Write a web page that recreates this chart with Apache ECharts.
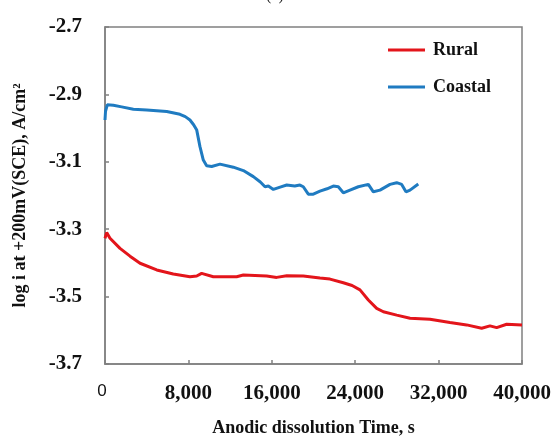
<!DOCTYPE html>
<html>
<head>
<meta charset="utf-8">
<script src="https://cdn.jsdelivr.net/npm/echarts@6/dist/echarts.min.js"></script>
<style>html,body{margin:0;padding:0;background:#fff;}#c{width:554px;height:437px;}</style>
</head>
<body>
<div id="c"></div>
<script>
const seriesNames = ['Rural', 'Coastal'];
const xTicks = [0, 8000, 16000, 24000, 32000, 40000];
const yTicks = [-3.7, -3.5, -3.3, -3.1, -2.9, -2.7];

const ruralTime = [0, 160, 480, 1440, 2400, 3360, 4960, 6550, 8150, 8800, 9270, 10390, 12630, 13270, 15510, 16470, 17430, 19020, 20620, 21580, 22860, 23700, 24460, 25260, 26060, 26700, 27980, 29260, 31170, 33090, 34690, 36130, 36930, 37570, 38530, 40000];
const ruralLog = [-3.327, -3.310, -3.327, -3.357, -3.380, -3.401, -3.421, -3.433, -3.441, -3.439, -3.431, -3.441, -3.441, -3.436, -3.439, -3.443, -3.438, -3.439, -3.445, -3.448, -3.459, -3.467, -3.480, -3.510, -3.535, -3.545, -3.555, -3.564, -3.567, -3.577, -3.584, -3.594, -3.587, -3.592, -3.582, -3.584];

const coastalTime = [0, 50, 220, 800, 1600, 2720, 4000, 5920, 7190, 7700, 8150, 8500, 8800, 9110, 9430, 9750, 10230, 11030, 12310, 13270, 14230, 14900, 15350, 15670, 16150, 16800, 17430, 18200, 18700, 19020, 19500, 19980, 20620, 21300, 21900, 22380, 22860, 23500, 24300, 25260, 25740, 26380, 27340, 27980, 28460, 28870, 29260, 30050];
const coastalLog = [-2.976, -2.950, -2.931, -2.932, -2.937, -2.944, -2.946, -2.951, -2.959, -2.966, -2.976, -2.990, -3.006, -3.055, -3.095, -3.112, -3.114, -3.107, -3.116, -3.126, -3.144, -3.160, -3.174, -3.172, -3.182, -3.175, -3.169, -3.172, -3.169, -3.174, -3.196, -3.196, -3.187, -3.180, -3.172, -3.174, -3.192, -3.184, -3.174, -3.167, -3.189, -3.184, -3.167, -3.162, -3.167, -3.189, -3.184, -3.166];

const zip = (a, b) => a.map((t, i) => [t, b[i]]);
const serif = '"Liberation Serif", "Times New Roman", serif';

const chart = echarts.init(document.getElementById('c'), null, {renderer: 'canvas'});
chart.setOption({
  animation: false,
  backgroundColor: '#fff',
  graphic: [{
    type: 'text', left: 266, top: -12,
    style: {text: '(a)', font: '16px ' + serif, fill: '#222'}
  }],
  grid: {left: 105, right: 32, top: 27, bottom: 73, show: true, borderColor: '#808080', borderWidth: 1.5,
         containLabel: false, outerBoundsMode: 'none'},
  legend: {
    orient: 'vertical', left: 383, top: 36, itemWidth: 37, itemHeight: 3, itemGap: 19,
    icon: 'rect',
    data: seriesNames,
    textStyle: {fontFamily: serif, fontWeight: 'bold', fontSize: 18, color: '#111', padding: [0, 0, 0, 3]}
  },
  xAxis: {
    type: 'value', min: xTicks[0], max: xTicks[xTicks.length - 1], interval: xTicks[1] - xTicks[0],
    name: 'Anodic dissolution Time, s', nameLocation: 'middle', nameGap: 55,
    nameTextStyle: {fontFamily: serif, fontWeight: 'bold', fontSize: 18, color: '#111'},
    axisLine: {lineStyle: {color: '#808080', width: 1.5}},
    axisTick: {inside: true, length: 4, lineStyle: {color: '#808080', width: 1.5}},
    splitLine: {show: false},
    axisLabel: {
      margin: 19,
      formatter: v => v === 0 ? '{z|0}' : '{b|' + v.toLocaleString('en-US') + '}',
      rich: {
        z: {fontFamily: '"Liberation Sans", Arial, sans-serif', fontSize: 17, color: '#111', padding: [0, 6, 0, 0]},
        b: {fontFamily: serif, fontWeight: 'bold', fontSize: 21, color: '#111'}
      }
    }
  },
  yAxis: {
    type: 'value', min: yTicks[0], max: yTicks[yTicks.length - 1], interval: 0.2,
    name: 'log i at +200mV(SCE), A/cm²', nameLocation: 'middle', nameGap: 76,
    nameTextStyle: {fontFamily: serif, fontWeight: 'bold', fontSize: 18, color: '#111'},
    axisLine: {lineStyle: {color: '#808080', width: 1.5}},
    axisTick: {inside: true, length: 4, lineStyle: {color: '#808080', width: 1.5}},
    splitLine: {show: false},
    axisLabel: {
      margin: 23,
      formatter: v => v.toFixed(1),
      fontFamily: serif, fontWeight: 'bold', fontSize: 21, color: '#111',
      padding: [0, 0, 6, 0]
    }
  },
  series: [
    {name: seriesNames[0], type: 'line', symbol: 'none', data: zip(ruralTime, ruralLog),
     lineStyle: {color: '#e3151b', width: 3}, itemStyle: {color: '#e3151b'}},
    {name: seriesNames[1], type: 'line', symbol: 'none', data: zip(coastalTime, coastalLog),
     lineStyle: {color: '#1f7bc1', width: 3}, itemStyle: {color: '#1f7bc1'}}
  ]
});
</script>
</body>
</html>
